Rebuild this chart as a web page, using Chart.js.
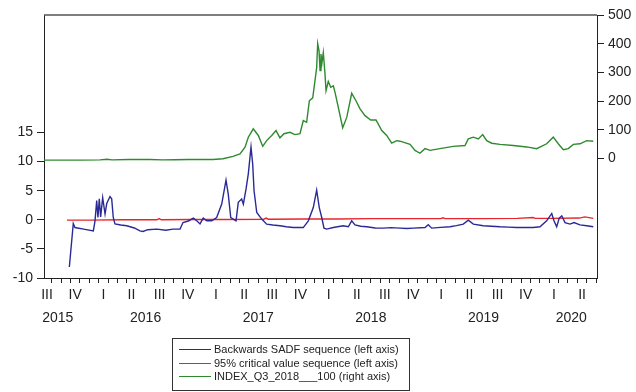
<!DOCTYPE html>
<html>
<head>
<meta charset="utf-8">
<script src="https://cdn.jsdelivr.net/npm/chart.js@4/dist/chart.umd.min.js"></script>
<style>
  body { margin: 0; background: #fff; }
  #wrap { position: relative; width: 636px; height: 392px; }
  #legend { position: absolute; left: 172px; top: 338px; width: 238px; height: 53px; box-sizing: border-box;
            border: 1px solid #333; font: 11px "Liberation Sans", Arial, sans-serif; color: #222; }
  #legend .row { position: absolute; left: 0; height: 14px; line-height: 14px; white-space: nowrap; }
  #legend .swatch { position: absolute; left: 6px; top: 7px; width: 32px; height: 1px; }
  #legend .txt { position: absolute; left: 41px; top: 0; }
</style>
</head>
<body>
<div id="wrap">
  <canvas id="c" width="636" height="392"></canvas>
  <div id="legend"></div>
</div>
<script>
// backwards SADF statistic (left axis)
const sadfYears = [2015.823, 2015.858, 2015.873, 2015.95, 2016.036, 2016.051, 2016.066, 2016.077, 2016.089, 2016.101,
  2016.119, 2016.140, 2016.155, 2016.184, 2016.199, 2016.213, 2016.228, 2016.28, 2016.332, 2016.40,
  2016.450, 2016.477, 2016.52, 2016.599, 2016.68, 2016.743, 2016.806, 2016.832, 2016.88, 2016.924,
  2016.954, 2016.983, 2017.012, 2017.043, 2017.087, 2017.131, 2017.176, 2017.214, 2017.234, 2017.256,
  2017.303, 2017.323, 2017.353, 2017.368, 2017.392, 2017.412, 2017.436, 2017.451, 2017.463, 2017.487,
  2017.531, 2017.575, 2017.63, 2017.693, 2017.75, 2017.812, 2017.900, 2017.945, 2017.989, 2018.019,
  2018.042, 2018.064, 2018.084, 2018.108, 2018.167, 2018.255, 2018.300, 2018.330, 2018.359, 2018.41,
  2018.463, 2018.54, 2018.611, 2018.68, 2018.759, 2018.82, 2018.877, 2018.981, 2019.010, 2019.040,
  2019.12, 2019.203, 2019.26, 2019.321, 2019.365, 2019.410, 2019.498, 2019.57, 2019.647, 2019.72,
  2019.795, 2019.87, 2019.942, 2020.002, 2020.061, 2020.106, 2020.126, 2020.150, 2020.173, 2020.195,
  2020.224, 2020.268, 2020.304, 2020.357, 2020.417, 2020.475];
const sadfValues = [-8.1, -0.64, -1.33, -1.6, -1.9, -0.17, 3.3, 0.4, 3.6, 0.5,
  3.8, 1.0, 2.8, 4.0, 3.6, 0.4, -0.7, -0.9, -1.03, -1.4,
  -1.9, -2.0, -1.7, -1.6, -1.8, -1.6, -1.6, -0.47, -0.2, 0.29,
  -0.17, -0.7, 0.3, -0.17, -0.17, 0.4, 2.7, 6.8, 4.4, 0.4,
  -0.17, 3.0, 3.57, 2.7, 5.3, 7.9, 12.5, 9.6, 5.0, 1.26,
  0.12, -0.74, -0.9, -1.03, -1.2, -1.33, -1.33, -0.17, 2.1, 5.1,
  2.1, 0.4, -1.43, -1.6, -1.33, -1.03, -1.2, -0.17, -0.86, -1.1,
  -1.2, -1.4, -1.43, -1.35, -1.43, -1.5, -1.43, -1.33, -0.86, -1.43,
  -1.3, -1.2, -1.0, -0.74, -0.05, -0.74, -1.03, -1.1, -1.2, -1.25,
  -1.33, -1.3, -1.33, -1.2, -0.17, 1.09, -0.17, -1.2, 0.29, 0.69,
  -0.47, -0.74, -0.47, -0.86, -1.03, -1.2];

// 95% critical values (left axis)
const critYears = [2015.802, 2016.0, 2016.3, 2016.6, 2016.62, 2016.64, 2016.9, 2017.2, 2017.55, 2017.57,
  2017.59, 2017.9, 2018.2, 2018.5, 2018.8, 2019.12, 2019.14, 2019.16, 2019.5, 2019.8,
  2019.94, 2019.96, 2020.1, 2020.35, 2020.4, 2020.475];
const critValues = [-0.05, -0.05, 0.0, 0.0, 0.2, 0.0, 0.05, 0.05, 0.1, 0.3,
  0.1, 0.15, 0.15, 0.2, 0.2, 0.2, 0.35, 0.2, 0.2, 0.25,
  0.4, 0.25, 0.25, 0.3, 0.5, 0.25];

// price index, Q3 2018 = 100 (right axis)
const indexYears = [2015.598, 2015.75, 2015.918, 2016.095, 2016.157, 2016.202, 2016.35, 2016.539, 2016.65, 2016.761,
  2016.88, 2016.983, 2017.098, 2017.187, 2017.276, 2017.338, 2017.383, 2017.412, 2017.456, 2017.501,
  2017.540, 2017.575, 2017.620, 2017.658, 2017.693, 2017.729, 2017.782, 2017.826, 2017.871, 2017.900,
  2017.930, 2017.954, 2017.984, 2018.004, 2018.019, 2018.028, 2018.040, 2018.049, 2018.057, 2018.066,
  2018.078, 2018.093, 2018.102, 2018.122, 2018.144, 2018.167, 2018.182, 2018.211, 2018.250, 2018.286,
  2018.330, 2018.368, 2018.404, 2018.448, 2018.499, 2018.546, 2018.597, 2018.641, 2018.685, 2018.730,
  2018.759, 2018.848, 2018.892, 2018.936, 2018.981, 2019.025, 2019.114, 2019.232, 2019.336, 2019.365,
  2019.410, 2019.454, 2019.493, 2019.529, 2019.573, 2019.647, 2019.765, 2019.884, 2019.972, 2020.061,
  2020.120, 2020.164, 2020.209, 2020.253, 2020.298, 2020.357, 2020.417, 2020.475];
const indexValues = [-6, -6, -6, -5, -3, -5, -4, -4, -5, -4.5,
  -4, -4, -4, -1, 7, 16, 39, 74, 103, 80,
  42, 62, 80, 97, 72, 86, 91, 83, 86, 132,
  126, 201, 211, 271, 317, 400, 375, 306, 364, 334,
  369, 294, 236, 268, 248, 253, 230, 178, 107, 143,
  227, 201, 173, 149, 134, 134, 97, 80, 53, 62,
  60, 49, 28, 18, 34, 28, 34, 42, 45, 68,
  74, 68, 83, 62, 53, 49, 45, 40, 34, 51,
  74, 51, 30, 34, 49, 51, 62, 60];

const quarterNames = ["I", "II", "III", "IV"];
const leftTicks = [-10, -5, 0, 5, 10, 15];
const rightTicks = [0, 100, 200, 300, 400, 500];
const yearLabels = ["2015", "2016", "2017", "2018", "2019", "2020"];
const yearLabelAt = [2015.72, 2016.5, 2017.5, 2018.5, 2019.5, 2020.28];
const xStart = 2015.598, xEnd = 2020.508;

const C = { blue: "#2a2a96", red: "#e8262a", green: "#2f8a2f", axis: "#222" };
const FONT = { family: "'Liberation Sans', Arial, sans-serif", size: 14 };
const pts = (xs, ys) => xs.map((x, i) => ({ x, y: ys[i] }));
const halfMonth = (v) => Math.round((v - 2015) * 24); // even = month boundary, odd = mid-month

const series = [
  { label: "Backwards SADF sequence (left axis)", data: pts(sadfYears, sadfValues), color: C.blue, axis: "yL" },
  { label: "95% critical value sequence (left axis)", data: pts(critYears, critValues), color: C.red, axis: "yL" },
  { label: "INDEX_Q3_2018___100 (right axis)", data: pts(indexYears, indexValues), color: C.green, axis: "yR" },
];

// top edge of the frame + the year row under the quarter labels
const frameAndYears = {
  id: "frameAndYears",
  afterDraw(chart) {
    const { ctx, chartArea: a, scales } = chart;
    ctx.save();
    ctx.strokeStyle = "#555"; ctx.lineWidth = 1.5;
    ctx.beginPath(); ctx.moveTo(a.left, a.top); ctx.lineTo(a.right, a.top); ctx.stroke();
    ctx.fillStyle = C.axis;
    ctx.font = `${FONT.size}px ${FONT.family}`;
    ctx.textAlign = "center"; ctx.textBaseline = "middle";
    yearLabels.forEach((t, i) => ctx.fillText(t, scales.x.getPixelForValue(yearLabelAt[i]), 318));
    ctx.restore();
  },
};

const yAxis = (pos, min, max, list, width) => ({
  position: pos, min, max,
  afterBuildTicks: (s) => { s.ticks = list.map((v) => ({ value: v })); },
  afterFit: (s) => { s.width = width; },
  ticks: { font: FONT, color: C.axis, padding: 4 },
  grid: { drawOnChartArea: false, tickLength: 7, tickColor: C.axis },
  border: { display: true, color: C.axis, width: 1 },
});

new Chart(document.getElementById("c"), {
  type: "line",
  data: { datasets: series.map((s) => ({ label: s.label, data: s.data, borderColor: s.color, backgroundColor: s.color, yAxisID: s.axis })) },
  options: {
    responsive: false, animation: false,
    layout: { padding: { top: 15, left: 0, right: 0, bottom: 0 } },
    elements: { point: { radius: 0 }, line: { borderWidth: 1.4, tension: 0 } },
    plugins: { legend: { display: false }, tooltip: { enabled: false } },
    scales: {
      x: {
        type: "linear", min: xStart, max: xEnd,
        afterBuildTicks: (s) => {
          const t = [];
          for (let k = Math.ceil((xStart - 2015) * 24); k <= Math.floor((xEnd - 2015) * 24); k++) t.push({ value: 2015 + k / 24 });
          s.ticks = t;
        },
        afterFit: (s) => { s.height = 114; },
        ticks: {
          autoSkip: false, maxRotation: 0, font: FONT, color: C.axis, padding: 4,
          callback: (v) => {
            const k = halfMonth(v);
            if (k % 2 === 0) return "";
            const m = (k - 1) / 2;
            return m % 3 === 1 ? quarterNames[Math.floor((m % 12) / 3)] : "";
          },
        },
        grid: {
          drawOnChartArea: false, tickLength: 5,
          tickColor: (c) => (c.tick && halfMonth(c.tick.value) % 2 !== 0 ? "rgba(0,0,0,0)" : C.axis),
        },
        border: { display: true, color: C.axis, width: 1 },
      },
      yL: yAxis("left", -10, 35.2, leftTicks, 44),
      yR: yAxis("right", -417, 500, rightTicks, 39),
    },
  },
  plugins: [frameAndYears],
});

// boxed legend below the plot
document.getElementById("legend").innerHTML = series.map((s, i) =>
  `<div class="row" style="top:${3 + i * 13.5}px"><span class="swatch" style="background:${s.color}"></span><span class="txt">${s.label}</span></div>`
).join("");
</script>
</body>
</html>
